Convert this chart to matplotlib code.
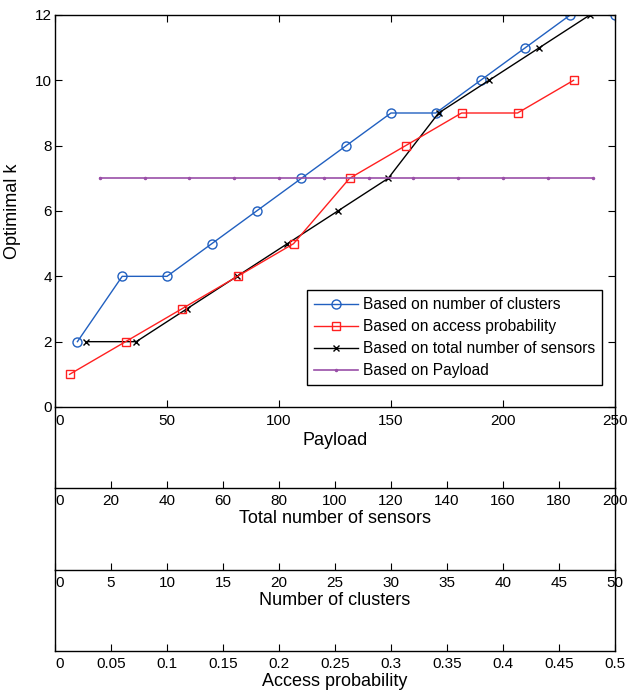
import matplotlib
matplotlib.use("Agg")
import matplotlib.pyplot as plt

plt.rcParams["font.family"] = ["Liberation Sans", "DejaVu Sans"]

# --- data ------------------------------------------------------------------
# number of clusters (0-50 axis)
clusters = [2, 6, 10, 14, 18, 22, 26, 30, 34, 38, 42, 46, 50]
k_clusters = [2, 4, 4, 5, 6, 7, 8, 9, 9, 10, 11, 12, 12]

# access probability (0-0.5 axis)
access_prob = [0.013, 0.063, 0.113, 0.163, 0.213, 0.263, 0.313, 0.363, 0.413, 0.463]
k_access = [1, 2, 3, 4, 5, 7, 8, 9, 9, 10]

# total number of sensors (0-200 axis)
sensors = [11, 29, 47, 65, 83, 101, 119, 137, 155, 173, 191]
k_sensors = [2, 2, 3, 4, 5, 6, 7, 9, 10, 11, 12]

# payload (0-250 axis)
payload = [20, 40, 60, 80, 100, 120, 140, 160, 180, 200, 220, 240]
k_payload = [7] * len(payload)

payload_ticks = [0, 50, 100, 150, 200, 250]
sensor_ticks = list(range(0, 201, 20))
cluster_ticks = list(range(0, 51, 5))
prob_ticks = [0, 0.05, 0.1, 0.15, 0.2, 0.25, 0.3, 0.35, 0.4, 0.45, 0.5]
prob_labels = ["0", "0.05", "0.1", "0.15", "0.2", "0.25", "0.3", "0.35", "0.4", "0.45", "0.5"]
k_ticks = [0, 2, 4, 6, 8, 10, 12]

PAY_MAX = 250.0
TICK_FS = 11
LABEL_FS = 13


def to_payload(xs, xmax):
    # every series is drawn on the payload axis; the other axes share its span
    return [x * PAY_MAX / xmax for x in xs]


W, H = 628, 690
fig = plt.figure(figsize=(W / 100, H / 100), dpi=100)

left, right = 55, 615
def box(top, bottom):
    return [left / W, (H - bottom) / H, (right - left) / W, (bottom - top) / H]

ax = fig.add_axes(box(15, 407))

l_clu, = ax.plot(to_payload(clusters, 50), k_clusters, color="#2160c0", lw=1.0,
                 marker="o", ms=6.5, mfc="none", mew=1.0)
l_sen, = ax.plot(to_payload(sensors, 200), k_sensors, color="black", lw=1.0,
                 marker="x", ms=4, mew=1.0)
l_acc, = ax.plot(to_payload(access_prob, 0.5), k_access, color="#ff2020", lw=1.0,
                 marker="s", ms=6, mfc="none", mew=1.0)
l_pay, = ax.plot(payload, k_payload, color="#9a4fa8", lw=1.2,
                 marker=".", ms=3)

ax.set_xlim(0, PAY_MAX)
ax.set_ylim(0, 12)
ax.set_xticks(payload_ticks)
ax.set_yticks(k_ticks)
ax.tick_params(direction="in", top=True, right=True, length=5, labelsize=TICK_FS,
               width=0.8)
ax.tick_params(axis="x", pad=5)
ax.tick_params(axis="y", pad=2)
ax.set_xlabel("Payload", fontsize=LABEL_FS, labelpad=3)
ax.set_ylabel("Optimimal k", fontsize=LABEL_FS, labelpad=10)
for s in ax.spines.values():
    s.set_linewidth(1.0)

leg = ax.legend([l_clu, l_acc, l_sen, l_pay],
                ["Based on number of clusters", "Based on access probability",
                 "Based on total number of sensors", "Based on Payload"],
                loc="upper left", bbox_to_anchor=(0.45, 0.298), fontsize=11.2,
                fancybox=False, framealpha=1, edgecolor="black",
                handlelength=2.8, handletextpad=0.35, labelspacing=0.45,
                borderpad=0.45, borderaxespad=0)
leg.get_frame().set_linewidth(1.0)

# stacked extra x axes below the main one
extra = [
    (407, 488, 200, sensor_ticks, [str(t) for t in sensor_ticks], "Total number of sensors"),
    (488, 570, 50, cluster_ticks, [str(t) for t in cluster_ticks], "Number of clusters"),
    (570, 651, 0.5, prob_ticks, prob_labels, "Access probability"),
]
for top, bottom, xmax, ticks, labels, name in extra:
    a = fig.add_axes(box(top, bottom))
    a.patch.set_alpha(0)
    a.set_xlim(0, xmax)
    a.set_xticks(ticks)
    a.set_xticklabels(labels)
    a.set_yticks([])
    a.spines["top"].set_visible(False)
    for s in ("left", "right", "bottom"):
        a.spines[s].set_linewidth(1.0)
    a.tick_params(direction="in", length=5, labelsize=TICK_FS, width=0.8, pad=4)
    a.set_xlabel(name, fontsize=LABEL_FS, labelpad=2)
    a.get_xticklabels()[0].set_ha("left")

ax.get_xticklabels()[0].set_ha("left")

fig.savefig("out.png", dpi=100)
